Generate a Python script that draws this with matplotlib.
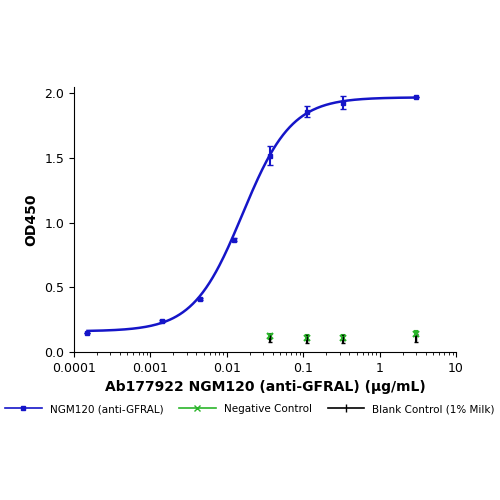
import numpy as np
import matplotlib
matplotlib.use("Agg")
import matplotlib.pyplot as plt
from matplotlib.ticker import LogLocator, NullFormatter, FixedLocator

conc = [0.00015, 0.0014, 0.0045, 0.0125, 0.037, 0.111, 0.333, 3.0]
ngm = [0.15, 0.24, 0.41, 0.87, 1.52, 1.86, 1.93, 1.97]
ngm_err = [0.0, 0.01, 0.01, 0.01, 0.07, 0.04, 0.05, 0.0]
neg_conc = [0.037, 0.111, 0.333, 3.0]
neg = [0.12, 0.11, 0.11, 0.14]
blank = [0.11, 0.10, 0.10, 0.11]
# 4PL fit parameters
bottom, top, ec50, hill = 0.16, 1.97, 0.016, 1.35

fig = plt.figure(figsize=(5, 5), dpi=100)
ax = fig.add_axes([0.148, 0.296, 0.764, 0.53])
xs = np.logspace(np.log10(0.00015), np.log10(3.0), 300)
ax.plot(xs, bottom + (top - bottom) / (1 + (ec50 / xs) ** hill), color='#1515c8', lw=1.8)
ax.errorbar(conc, ngm, yerr=ngm_err, fmt='s', color='#1515c8', ms=3.5, capsize=2, elinewidth=1.5)
ax.errorbar(neg_conc, neg, yerr=0.02, fmt='x', color='#2bb52b', ms=4, capsize=1.5, mew=1.5)
ax.errorbar(neg_conc, blank, yerr=0.03, fmt='|', color='black', ms=5, capsize=1.5)
ax.set_xscale('log')
ax.set_xlim(0.0001, 10)
ax.set_ylim(0, 2.05)
ax.set_yticks([0, 0.5, 1.0, 1.5, 2.0])
ax.set_yticklabels(['0.0', '0.5', '1.0', '1.5', '2.0'])
ax.set_xticks([0.0001, 0.001, 0.01, 0.1, 1, 10])
ax.set_xticklabels(['0.0001', '0.001', '0.01', '0.1', '1', '10'])
ax.xaxis.set_minor_locator(LogLocator(subs=np.arange(2, 10)))
ax.xaxis.set_minor_formatter(NullFormatter())
for s in ['top', 'right']:
    ax.spines[s].set_visible(False)
ax.tick_params(labelsize=9)
ax.set_xlabel('Ab177922 NGM120 (anti-GFRAL) (\u00b5g/mL)', fontsize=10, fontweight='bold')
ax.set_ylabel('OD450', fontsize=10, fontweight='bold')

from matplotlib.lines import Line2D
h = [Line2D([], [], color='#1515c8', marker='s', ms=3, lw=1.2),
     Line2D([], [], color='#2bb52b', marker='x', ms=4, lw=1.2),
     Line2D([], [], color='black', marker='|', ms=6, lw=1.2)]
fig.legend(h, ['NGM120 (anti-GFRAL)', 'Negative Control', 'Blank Control (1% Milk)'],
           loc='center', bbox_to_anchor=(0.5, 0.182), ncol=3, frameon=False, fontsize=7.5,
           handlelength=3.5, columnspacing=1.5)
fig.savefig('out.png', dpi=100)
